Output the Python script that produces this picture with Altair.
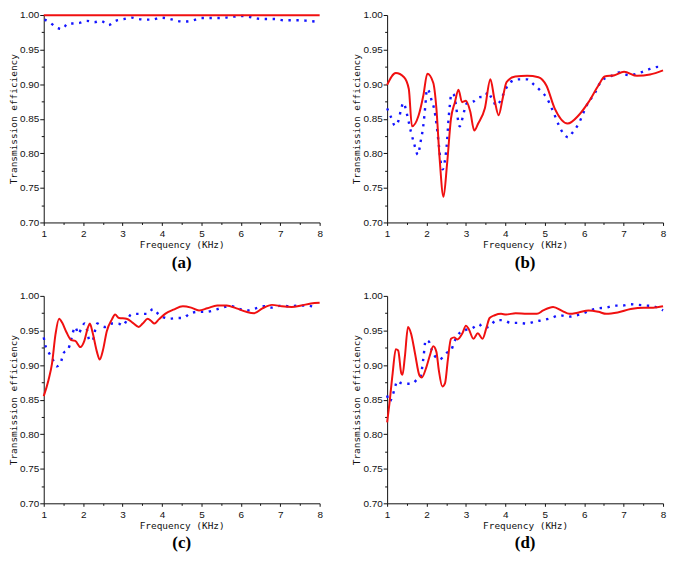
import altair as alt
import pandas as pd

# ---------------- data ----------------
# Panel (a)
a_red_x = [1.0, 2.0, 3.0, 4.0, 5.0, 6.0, 7.0, 8.0]
a_red_y = [0.9995, 0.9995, 0.9995, 0.9995, 0.9995, 0.9995, 0.9995, 0.9995]
a_blue_x = [1.02, 1.17, 1.32, 1.47, 1.61, 1.75, 1.91, 2.09, 2.28, 2.45, 2.64, 2.82,
            3.02, 3.23, 3.35, 3.56, 3.76, 3.97, 4.17, 4.38, 4.58, 4.79, 4.99, 5.20,
            5.40, 5.61, 5.82, 6.02, 6.23, 6.43, 6.64, 6.84, 7.09, 7.29, 7.50, 7.70, 7.95]
a_blue_y = [0.9934, 0.9886, 0.982, 0.9797, 0.9877, 0.9877, 0.9886, 0.9915, 0.9896, 0.9915,
            0.9853, 0.9915, 0.9938, 0.9962, 0.9948, 0.9934, 0.9934, 0.9962, 0.9948, 0.9915,
            0.9905, 0.9924, 0.9957, 0.9957, 0.9957, 0.9962, 0.9976, 0.9986, 0.9972, 0.9948,
            0.9943, 0.9943, 0.9924, 0.9924, 0.9924, 0.9915, 0.9901]

# Panel (b)
b_red_x = [1.00, 1.22, 1.43, 1.55, 1.63, 1.80, 1.92, 2.02, 2.17, 2.25, 2.33, 2.43, 2.52,
           2.62, 2.72, 2.81, 2.90, 3.00, 3.11, 3.21, 3.31, 3.48, 3.62, 3.72, 3.83, 3.93,
           4.03, 4.25, 4.55, 4.84, 5.04, 5.25, 5.58, 5.86, 6.11, 6.36, 6.52, 6.77, 7.01,
           7.34, 7.67, 8.00]
b_red_y = [0.899, 0.916, 0.910, 0.893, 0.839, 0.855, 0.884, 0.915, 0.902, 0.865, 0.794,
           0.737, 0.784, 0.850, 0.874, 0.892, 0.874, 0.876, 0.860, 0.833, 0.843, 0.865,
           0.907, 0.879, 0.855, 0.879, 0.903, 0.911, 0.912, 0.910, 0.898, 0.865, 0.843,
           0.855, 0.874, 0.898, 0.911, 0.913, 0.918, 0.912, 0.914, 0.920]
b_blue_x = [1.00, 1.10, 1.20, 1.28, 1.36, 1.41, 1.51, 1.60, 1.68, 1.78, 1.85, 1.92, 1.97,
            2.01, 2.08, 2.13, 2.19, 2.26, 2.31, 2.37, 2.41, 2.47, 2.52, 2.55, 2.59, 2.63,
            2.68, 2.71, 2.74, 2.78, 2.84, 2.89, 2.95, 3.03, 3.19, 3.32, 3.48, 3.56, 3.64,
            3.71, 3.76, 3.84, 3.93, 4.01, 4.13, 4.34, 4.55, 4.71, 4.88, 5.04, 5.20, 5.37,
            5.49, 5.60, 5.69, 5.86, 6.06, 6.28, 6.44, 6.69, 6.89, 7.14, 7.43, 7.67, 7.88, 8.00]
b_blue_y = [0.865, 0.852, 0.840, 0.846, 0.865, 0.873, 0.855, 0.832, 0.815, 0.798, 0.817,
            0.841, 0.869, 0.893, 0.887, 0.876, 0.865, 0.839, 0.813, 0.784, 0.777, 0.791,
            0.817, 0.843, 0.869, 0.886, 0.886, 0.881, 0.872, 0.855, 0.839, 0.846, 0.860,
            0.873, 0.875, 0.881, 0.882, 0.889, 0.881, 0.874, 0.869, 0.873, 0.883, 0.893,
            0.903, 0.907, 0.907, 0.900, 0.891, 0.881, 0.862, 0.839, 0.827, 0.823, 0.829,
            0.843, 0.869, 0.888, 0.905, 0.912, 0.917, 0.913, 0.917, 0.922, 0.925, 0.923]

# Panel (c)
c_red_x = [1.00, 1.12, 1.21, 1.30, 1.39, 1.47, 1.58, 1.70, 1.80, 1.93, 2.03, 2.12, 2.17,
           2.24, 2.35, 2.42, 2.50, 2.60, 2.73, 2.81, 2.91, 3.10, 3.26, 3.41, 3.51, 3.64,
           3.72, 3.81, 3.92, 4.08, 4.29, 4.53, 4.74, 4.94, 5.15, 5.40, 5.64, 5.89, 6.14,
           6.34, 6.55, 6.79, 7.04, 7.29, 7.53, 7.78, 8.00]
c_red_y = [0.855, 0.878, 0.902, 0.945, 0.967, 0.961, 0.947, 0.936, 0.935, 0.926, 0.935,
           0.954, 0.960, 0.947, 0.919, 0.908, 0.921, 0.949, 0.966, 0.973, 0.968, 0.967,
           0.961, 0.955, 0.960, 0.967, 0.964, 0.960, 0.966, 0.974, 0.980, 0.985, 0.983,
           0.979, 0.982, 0.986, 0.986, 0.982, 0.977, 0.975, 0.982, 0.987, 0.985, 0.984,
           0.986, 0.989, 0.990]
c_blue_x = [1.00, 1.04, 1.12, 1.22, 1.33, 1.44, 1.50, 1.62, 1.69, 1.74, 1.80, 1.88, 1.96,
            2.04, 2.11, 2.15, 2.24, 2.29, 2.36, 2.45, 2.56, 2.73, 2.89, 3.01, 3.11, 3.22,
            3.33, 3.46, 3.63, 3.77, 3.92, 4.04, 4.20, 4.37, 4.53, 4.70, 4.90, 5.11, 5.31,
            5.52, 5.76, 5.97, 6.17, 6.38, 6.59, 6.79, 7.04, 7.21, 7.45, 7.66, 7.94]
c_blue_y = [0.940, 0.929, 0.919, 0.909, 0.898, 0.905, 0.917, 0.923, 0.935, 0.947, 0.955,
            0.945, 0.954, 0.960, 0.948, 0.937, 0.935, 0.947, 0.960, 0.957, 0.955, 0.960,
            0.960, 0.957, 0.965, 0.973, 0.974, 0.974, 0.974, 0.981, 0.973, 0.969, 0.967,
            0.968, 0.968, 0.974, 0.977, 0.977, 0.979, 0.983, 0.985, 0.981, 0.979, 0.982,
            0.985, 0.983, 0.986, 0.985, 0.986, 0.986, 0.983]

# Panel (d)
d_red_x = [1.00, 1.06, 1.14, 1.22, 1.28, 1.36, 1.39, 1.45, 1.53, 1.61, 1.71, 1.82, 1.88,
           1.99, 2.08, 2.17, 2.25, 2.31, 2.40, 2.47, 2.54, 2.62, 2.70, 2.78, 2.91, 3.00,
           3.07, 3.19, 3.30, 3.42, 3.52, 3.60, 3.73, 3.89, 4.02, 4.26, 4.55, 4.80, 4.96,
           5.21, 5.45, 5.62, 5.86, 6.11, 6.36, 6.56, 6.85, 7.18, 7.51, 7.75, 8.00]
d_red_y = [0.817, 0.845, 0.888, 0.923, 0.921, 0.888, 0.886, 0.912, 0.955, 0.945, 0.916,
           0.885, 0.882, 0.896, 0.913, 0.927, 0.919, 0.893, 0.869, 0.874, 0.907, 0.938,
           0.940, 0.937, 0.946, 0.957, 0.952, 0.938, 0.946, 0.938, 0.954, 0.968, 0.972,
           0.974, 0.973, 0.975, 0.974, 0.974, 0.979, 0.984, 0.978, 0.974, 0.976, 0.979,
           0.977, 0.974, 0.976, 0.981, 0.983, 0.983, 0.985]
d_blue_x = [1.00, 1.06, 1.14, 1.20, 1.26, 1.35, 1.51, 1.63, 1.76, 1.84, 1.92, 1.98, 2.06,
            2.13, 2.21, 2.33, 2.44, 2.54, 2.62, 2.70, 2.78, 2.89, 3.00, 3.15, 3.33, 3.44,
            3.60, 3.77, 3.93, 4.14, 4.34, 4.55, 4.76, 4.96, 5.17, 5.37, 5.62, 5.82, 5.99,
            6.15, 6.36, 6.56, 6.77, 6.97, 7.18, 7.38, 7.59, 7.75, 8.00]
d_blue_y = [0.856, 0.847, 0.856, 0.868, 0.877, 0.874, 0.873, 0.873, 0.879, 0.882, 0.910,
            0.936, 0.934, 0.922, 0.913, 0.908, 0.913, 0.919, 0.921, 0.933, 0.942, 0.949,
            0.951, 0.953, 0.959, 0.954, 0.956, 0.965, 0.965, 0.961, 0.961, 0.960, 0.963,
            0.965, 0.968, 0.972, 0.970, 0.972, 0.975, 0.979, 0.982, 0.983, 0.986, 0.986,
            0.988, 0.987, 0.986, 0.985, 0.979]

panel_labels = ["(a)", "(b)", "(c)", "(d)"]
x_ticks = [1, 1.5, 2, 2.5, 3, 3.5, 4, 4.5, 5, 5.5, 6, 6.5, 7, 7.5, 8]
y_ticks = [0.70, 0.725, 0.75, 0.775, 0.80, 0.825, 0.85, 0.875, 0.90, 0.925, 0.95, 0.975, 1.00]

# ---------------- chart ----------------
W, H = 278, 209
TICK_FONT = "Liberation Sans"
TITLE_FONT = "DejaVu Sans Mono"
INK = "#111"

x_axis = alt.Axis(
    values=x_ticks, title="Frequency (KHz)",
    labelExpr="datum.value % 1 == 0 ? format(datum.value, 'd') : ''",
    tickSize={"condition": {"test": "datum.value % 1 != 0", "value": 2}, "value": 3},
    labelFont=TICK_FONT, labelFontSize=10, labelColor=INK, labelPadding=3,
    labelFlush=False, labelOverlap=False,
    titleFont=TITLE_FONT, titleFontSize=9.5, titleFontWeight="normal", titleColor=INK,
    titlePadding=1, domainColor=INK, tickColor=INK, grid=False,
)
y_axis = alt.Axis(
    values=y_ticks, title="Transmission efficiency",
    labelExpr="round(datum.value * 1000) % 50 == 0 ? format(datum.value, '.2f') : ''",
    tickSize={"condition": {"test": "round(datum.value * 1000) % 50 != 0", "value": 2.5}, "value": 4},
    labelFont=TICK_FONT, labelFontSize=10, labelColor=INK, labelPadding=1,
    labelOverlap=False,
    titleFont=TITLE_FONT, titleFontSize=9.5, titleFontWeight="normal", titleColor=INK,
    titlePadding=1, domainColor=INK, tickColor=INK, grid=False,
)


def panel(label, rx, ry, bx, by):
    red = pd.DataFrame({"f": rx, "t": ry})
    blue = pd.DataFrame({"f": bx, "t": by})
    xs = alt.X("f:Q", scale=alt.Scale(domain=[1, 8], nice=False, zero=False), axis=x_axis)
    ys = alt.Y("t:Q", scale=alt.Scale(domain=[0.70, 1.00], nice=False, zero=False), axis=y_axis)
    blue_line = alt.Chart(blue).mark_line(
        color="#1414ff", strokeWidth=2.4, strokeDash=[2.4, 5.6], interpolate="monotone"
    ).encode(x=xs, y=ys)
    red_line = alt.Chart(red).mark_line(
        color="#f01010", strokeWidth=2, interpolate="monotone"
    ).encode(x=xs, y=ys)
    return alt.layer(blue_line, red_line).properties(
        width=W, height=H,
        title=alt.TitleParams(
            text=label, orient="bottom", font="Liberation Serif", fontSize=17,
            fontWeight="bold", color="#000", offset=6,
        ),
    )


pa = panel(panel_labels[0], a_red_x, a_red_y, a_blue_x, a_blue_y)
pb = panel(panel_labels[1], b_red_x, b_red_y, b_blue_x, b_blue_y)
pc = panel(panel_labels[2], c_red_x, c_red_y, c_blue_x, c_blue_y)
pd_ = panel(panel_labels[3], d_red_x, d_red_y, d_blue_x, d_blue_y)

chart = alt.vconcat(
    alt.hconcat(pa, pb, spacing=28),
    alt.hconcat(pc, pd_, spacing=28),
    spacing=20,
).properties(
    padding={"left": 0, "top": 0, "right": 0, "bottom": 0},
    background="white",
).configure_view(stroke=None)

chart.save("out.html", embed_options={"renderer": "svg", "actions": False})
